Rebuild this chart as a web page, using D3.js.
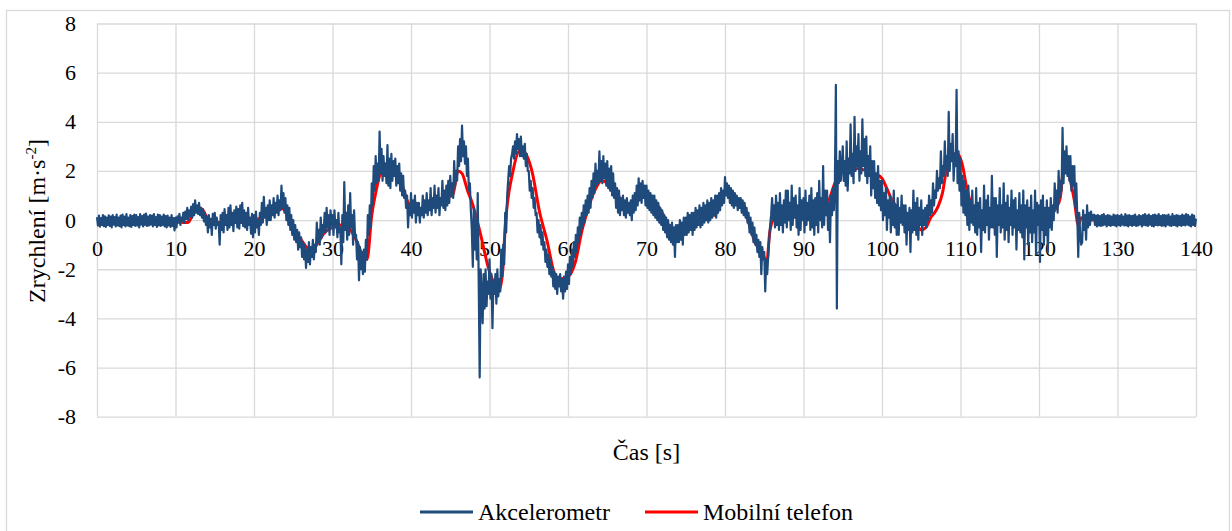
<!DOCTYPE html>
<html>
<head>
<meta charset="utf-8">
<style>
    body { margin: 0; background: #fff; }
    svg { display: block; }
    text { font-family: 'Liberation Serif', 'Times New Roman', serif; fill: #000; }
    .grid line { stroke: #d9d9d9; stroke-width: 1.3; }
    .grid path { display: none; }
    .lbl path, .lbl line { display: none; }
</style>
</head>
<body>
<svg width="1232" height="531"></svg>

<script src="https://d3js.org/d3.v7.min.js"></script>
<script>
    // x and y tick values
    let xTicks = d3.range(0, 141, 10);
    let yTicks = [-8, -6, -4, -2, 0, 2, 4, 6, 8];

    // Akcelerometr: one value every 0.125 s (one row = 1 s)
    let akcelStep = 0.125;
    let akcelValues = [
        0.12,-0.22,0.18,-0.27,0.08,-0.2,0.2,-0.25,
        0.15,-0.28,0.1,-0.2,0.19,-0.24,0.14,-0.3,
        0.2,-0.18,0.12,-0.26,0.22,-0.22,0.1,-0.25,
        0.18,-0.3,0.22,-0.2,0.14,-0.26,0.24,-0.22,
        0.1,-0.25,0.2,-0.28,0.16,-0.2,0.22,-0.24,
        0.2,-0.22,0.12,-0.3,0.24,-0.18,0.16,-0.26,
        0.22,-0.2,0.26,-0.24,0.14,-0.22,0.2,-0.18,
        0.18,-0.26,0.24,-0.2,0.12,-0.28,0.22,-0.22,
        0.2,-0.24,0.14,-0.2,0.22,-0.26,0.16,-0.3,
        0.18,-0.22,0.1,-0.28,0.2,-0.24,0.08,-0.42,
        // 10 s
        0.1,-0.3,0.15,-0.1,0.25,-0.2,0.1,-0.05,
        0.3,-0.1,0.35,0.05,0.5,0.0,0.4,0.15,
        0.55,0.1,0.65,0.2,0.8,0.3,0.6,0.25,
        0.7,0.2,0.5,0.1,0.45,-0.05,0.3,-0.2,
        0.15,-0.5,0.2,-0.3,0.05,-0.6,0.25,-0.2,
        0.3,-0.35,0.1,-0.2,-0.1,-1.0,0.2,-0.4,
        0.3,-0.5,0.45,-0.2,0.2,-0.4,0.5,-0.3,
        0.6,-0.2,0.3,-0.45,0.4,-0.1,0.55,-0.3,
        0.45,-0.35,0.6,-0.1,0.7,-0.25,0.4,-0.3,
        0.3,-0.4,0.5,-0.2,0.1,-0.55,0.25,-0.7,
        // 20 s
        0.2,-0.5,0.35,-0.3,0.0,-0.6,0.3,-0.2,
        0.7,-0.1,0.95,0.1,0.5,-0.2,0.6,0.0,
        0.8,0.0,0.6,0.2,0.9,0.1,0.7,0.3,
        1.0,0.2,0.8,0.4,1.4,0.5,1.1,0.3,
        0.9,0.0,0.6,-0.2,0.5,-0.4,0.2,-0.6,
        0.0,-0.8,-0.2,-0.9,-0.4,-1.2,-0.5,-1.1,
        -0.7,-1.5,-0.9,-1.6,-1.0,-1.95,-1.2,-1.7,
        -0.9,-1.8,-1.1,-1.5,-0.8,-1.6,-1.0,-1.3,
        -0.1,-0.9,-0.4,-1.0,0.1,-0.7,-0.2,-0.5,
        0.3,-0.5,0.5,-0.3,0.2,-0.6,0.4,-0.2,
        // 30 s
        0.2,-0.6,0.4,-0.3,0.0,-0.7,0.3,-0.5,
        -0.3,-1.8,0.2,-0.9,1.55,-0.4,0.3,-0.8,
        0.6,-0.6,1.1,-0.3,0.2,-1.0,0.4,-0.7,
        -0.6,-1.6,-0.9,-2.45,-1.1,-2.0,-1.3,-2.2,
        -1.2,-2.1,-0.8,-1.6,0.2,-0.6,0.6,-0.3,
        1.5,0.6,2.2,1.2,2.6,1.5,2.3,1.6,
        3.6,1.9,2.9,1.6,2.6,1.8,2.3,1.5,
        3.05,1.4,2.5,1.3,2.7,1.6,2.4,1.8,
        2.5,1.4,2.2,1.5,2.3,1.2,1.9,1.0,
        1.8,0.9,1.2,0.5,1.0,-0.3,0.6,0.2,
        // 40 s
        1.1,0.1,0.8,0.3,1.0,-0.1,0.7,0.2,
        0.7,-0.1,0.5,0.2,1.0,0.1,0.8,0.3,
        1.1,0.2,0.8,0.4,1.3,0.2,0.9,0.5,
        1.4,0.3,1.0,0.5,1.3,0.2,0.9,0.6,
        1.6,0.5,1.2,0.4,1.4,0.6,1.6,0.7,
        1.8,1.0,1.5,0.9,2.4,1.4,2.0,1.6,
        3.0,2.2,3.3,2.4,3.85,2.6,3.2,2.3,
        3.0,1.8,2.5,1.2,1.5,0.4,-0.4,-1.9,
        0.5,-1.2,0.0,-1.6,1.1,-2.5,-6.4,-2.0,
        -3.0,-4.2,-2.2,-3.6,-2.0,-3.5,-2.5,-3.0,
        // 50 s
        -1.6,-3.2,-2.2,-4.4,-2.5,-3.0,-2.2,-3.4,
        -2.0,-3.1,-2.4,-2.9,-1.2,-2.3,-1.0,-1.8,
        0.3,-0.5,1.0,1.6,2.2,1.8,2.5,2.7,
        3.0,2.5,3.2,2.7,3.5,2.9,3.3,2.6,
        3.4,2.6,3.0,2.5,3.1,2.2,2.7,2.0,
        2.0,1.2,1.6,0.9,1.3,0.5,0.9,0.2,
        0.3,-0.5,0.0,-0.7,-0.2,-1.0,-0.5,-1.2,
        -0.9,-1.7,-1.2,-1.9,-1.4,-2.2,-1.6,-2.3,
        -1.9,-2.7,-2.1,-2.8,-2.2,-3.0,-2.3,-2.7,
        -2.2,-2.9,-2.4,-3.2,-2.3,-2.9,-2.1,-2.8,
        // 60 s
        -1.8,-2.6,-1.5,-2.2,-1.2,-1.9,-0.9,-1.5,
        -0.6,-1.3,-0.3,-0.9,0.1,-0.6,0.3,-0.3,
        0.6,-0.1,0.8,0.2,1.0,0.3,1.3,0.5,
        1.6,0.9,1.9,1.1,2.3,1.4,2.0,1.5,
        2.8,1.6,2.4,1.5,2.6,1.7,2.3,1.4,
        2.4,1.3,2.1,1.2,2.2,1.0,1.9,0.9,
        1.5,0.5,1.3,0.3,1.2,0.2,0.9,0.4,
        1.0,0.2,0.8,0.1,0.9,0.3,0.7,0.2,
        0.8,0.0,1.0,0.3,1.1,0.4,1.4,0.6,
        1.7,0.8,1.5,0.7,1.6,0.9,1.4,0.6,
        // 70 s
        1.4,0.5,1.2,0.4,1.1,0.3,1.0,0.2,
        1.0,0.1,0.8,0.0,0.7,-0.1,0.5,-0.2,
        0.4,-0.4,0.2,-0.5,0.1,-0.7,0.0,-0.8,
        -0.2,-0.9,-0.1,-1.0,-0.3,-1.5,-0.2,-0.9,
        -0.2,-0.9,0.0,-0.8,-0.1,-1.0,0.1,-0.6,
        0.1,-0.6,0.3,-0.5,0.2,-0.4,0.3,-0.6,
        0.3,-0.4,0.5,-0.3,0.4,-0.2,0.6,-0.3,
        0.5,-0.2,0.7,-0.1,0.6,0.0,0.8,-0.1,
        0.7,0.0,0.9,0.1,0.8,0.2,1.0,0.1,
        1.0,0.3,1.1,0.4,1.3,0.6,1.2,0.7,
        // 80 s
        1.75,1.0,1.5,0.9,1.4,0.7,1.3,0.6,
        1.2,0.5,1.1,0.6,1.0,0.4,0.9,0.5,
        0.9,0.3,0.8,0.2,0.7,0.1,0.5,-0.1,
        0.3,-0.5,0.1,-0.6,-0.1,-0.9,-0.3,-1.0,
        -0.6,-1.3,-0.8,-1.5,-0.9,-2.2,-1.1,-1.6,
        -1.3,-2.9,-1.6,-2.2,-1.5,-0.8,-0.2,0.2,
        0.9,0.0,0.6,-0.3,1.0,-0.2,0.7,-0.4,
        1.1,-0.2,0.6,-0.5,0.8,-0.1,1.2,-0.3,
        1.2,0.0,0.7,-0.4,1.4,-0.2,0.9,0.1,
        1.0,-0.3,0.6,-0.6,1.3,-0.4,0.8,0.0,
        // 90 s
        0.9,-0.5,1.2,-0.2,0.7,0.0,1.0,-0.4,
        1.3,-0.3,0.8,-0.6,0.9,-0.2,1.1,-0.5,
        1.6,0.0,0.9,-0.3,2.2,-0.2,1.2,0.2,
        1.2,-0.4,0.7,-0.9,1.0,0.2,1.3,0.4,
        1.6,5.5,-3.6,2.4,1.5,2.8,1.6,2.2,
        3.0,1.6,2.4,1.4,3.2,1.2,2.5,1.9,
        3.9,1.8,2.7,1.5,4.2,2.0,3.0,2.2,
        3.5,1.6,2.8,1.9,4.1,2.2,3.3,1.8,
        3.4,1.5,2.6,1.8,3.0,1.0,2.4,1.3,
        2.4,0.9,1.9,0.7,2.2,0.6,1.6,0.4,
        // 100 s
        1.6,0.0,1.1,0.2,1.3,-0.4,0.8,0.1,
        1.0,-0.5,0.7,-0.2,1.2,-0.3,0.6,-0.6,
        0.9,-0.6,0.5,-0.1,1.0,-0.2,0.6,-0.5,
        0.6,-1.0,0.3,-0.4,0.5,-1.3,0.4,-0.5,
        1.2,-0.4,0.7,-0.6,0.9,-0.8,0.5,-0.2,
        0.8,-0.6,0.4,-0.2,0.5,-0.3,0.6,0.0,
        1.0,0.2,0.8,0.3,1.5,0.6,1.2,0.9,
        2.0,1.2,1.7,1.3,2.8,1.5,2.2,1.8,
        3.2,2.1,2.6,1.8,4.4,2.0,3.1,2.4,
        3.5,1.6,2.7,2.2,5.3,1.5,2.8,1.2,
        // 110 s
        2.5,0.6,1.8,0.3,1.6,0.2,1.2,-0.2,
        1.4,-0.4,0.8,-0.1,1.2,-0.2,0.6,-0.5,
        1.3,-0.6,0.7,-0.3,0.9,-1.3,0.4,-0.4,
        1.4,-0.5,0.8,-0.2,1.0,-0.8,0.5,-0.3,
        1.8,-0.3,0.9,-0.6,0.9,-1.5,0.6,-0.2,
        1.3,-0.5,0.6,-0.3,1.5,-0.8,0.7,-0.4,
        1.0,-0.9,0.5,-0.2,1.2,-0.6,0.8,-0.3,
        0.9,-1.2,0.4,-0.4,1.1,-0.5,0.6,-0.7,
        1.2,-1.6,0.6,-0.3,0.8,-1.0,0.5,-0.5,
        1.0,-0.9,0.4,-0.5,1.2,-1.4,0.7,-0.2,
        // 120 s
        0.6,-1.7,0.8,-0.4,1.0,-1.0,0.5,-0.6,
        0.8,-1.3,0.5,-0.3,0.9,-0.4,0.6,0.0,
        1.5,0.5,1.2,0.3,2.0,0.9,1.6,1.2,
        3.75,1.5,2.8,1.9,3.0,1.8,2.6,1.6,
        2.6,1.2,2.2,1.4,2.2,0.5,1.5,0.2,
        -1.5,0.3,-0.6,-1.0,-0.9,0.4,-0.4,0.2,
        -0.8,0.6,-0.3,0.3,-0.2,0.35,0.0,0.2,
        0.22,-0.2,0.18,-0.26,0.2,-0.22,0.16,-0.24,
        0.2,-0.22,0.24,-0.18,0.16,-0.26,0.2,-0.2,
        0.18,-0.24,0.14,-0.2,0.22,-0.22,0.18,-0.26,
        // 130 s
        0.2,-0.2,0.16,-0.24,0.22,-0.18,0.14,-0.22,
        0.24,-0.22,0.18,-0.26,0.2,-0.2,0.16,-0.24,
        0.18,-0.2,0.22,-0.24,0.14,-0.22,0.2,-0.18,
        0.16,-0.26,0.2,-0.2,0.24,-0.22,0.18,-0.24,
        0.22,-0.18,0.16,-0.24,0.2,-0.26,0.22,-0.2,
        0.18,-0.22,0.24,-0.2,0.16,-0.24,0.2,-0.22,
        0.2,-0.26,0.18,-0.18,0.22,-0.22,0.14,-0.24,
        0.24,-0.2,0.16,-0.22,0.2,-0.26,0.18,-0.2,
        0.16,-0.24,0.22,-0.2,0.18,-0.22,0.24,-0.18,
        0.2,-0.22,0.14,-0.26,0.22,-0.2,0.18,-0.24,
        0.05
    ];

    // Mobilní telefon: smoother signal, time [s] and value
    let telTime = [0, 5, 10, 11, 11.6, 12.3, 13, 13.5, 14, 15, 17, 19, 20, 21, 22, 23, 24, 24.6, 25.2, 26,
        26.7, 27.5, 28, 29, 30, 31, 32, 33, 33.8, 34.4, 35, 35.5, 36, 37, 38, 38.7, 39.5, 40, 41, 42,
        43, 44, 45.3, 46, 46.5, 47.2, 47.8, 48.8, 50, 51.3, 51.7, 52, 53, 53.9, 54.6, 55.4, 56.4, 57.3, 58.3, 58.8,
        60, 60.9, 61.8, 62.5, 63.4, 64.3, 65, 65.6, 66.3, 66.9, 67.6, 68.4, 69.2, 70, 71, 72, 73, 74, 75, 76,
        77, 78, 78.7, 79.7, 80.3, 80.9, 81.6, 82.3, 83.2, 83.8, 84.8, 85.3, 85.7, 86.1, 87, 90, 93, 94, 95, 97,
        98, 99, 100, 100.6, 101.3, 102, 103, 104, 105, 105.6, 106.2, 106.7, 107.2, 107.7, 108.4, 109, 109.6, 110.2, 110.8, 111.3,
        112, 115, 118, 120.4, 121.5, 122.2, 122.7, 123.1, 123.4, 124, 124.5, 125, 125.4, 126, 130, 140];
    let telValues = [0, 0, 0, -0.1, -0.1, 0.3, 0.5, 0.4, 0.1, -0.1, -0.1, -0.1, 0, 0.1, 0.3, 0.5, 0.4, 0, -0.5, -0.8,
        -1.1, -1.2, -1.0, -0.5, -0.3, -0.2, -0.3, -0.8, -1.4, -1.6, 0.2, 1.1, 1.8, 2.3, 2.1, 1.6, 0.8, 0.5, 0.3, 0.4,
        0.7, 0.9, 1.0, 2.0, 1.9, 1.2, 0.7, -0.5, -2.1, -2.8, -2.0, -0.3, 2.0, 2.85, 2.7, 2.0, 0.3, -0.8, -2.2, -2.4,
        -2.3, -1.75, -0.4, 0.4, 1.2, 1.6, 1.5, 1.2, 1.1, 0.6, 0.5, 0.6, 0.9, 1.1, 0.8, 0.3, -0.3, -0.6, -0.4, -0.1,
        0.1, 0.2, 0.2, 1.1, 1.2, 0.95, 0.85, 0.6, -0.3, -0.9, -1.35, -1.75, -0.5, 0.0, 0.3, 0.5, 0.7, 1.5, 2.0, 2.1,
        2.0, 1.9, 1.7, 1.3, 0.8, 0.5, 0.3, 0.1, -0.4, -0.3, 0.1, 0.3, 0.6, 1.1, 2.4, 2.7, 2.7, 2.3, 1.3, 0.7,
        0.4, 0.3, 0.2, -0.1, 0.2, 0.5, 0.9, 2.0, 2.1, 1.6, 0.8, -0.2, 0.1, 0, 0, 0];

    let seriesNames = ["Akcelerometr", "Mobilní telefon"];
    let seriesColors = ["#1f4a7c", "#ff0000"];
    let serif = "'Liberation Serif', 'Times New Roman', serif";

    let svg = d3.select("svg");

    // outer chart frame
    svg.append("rect")
        .attr("x", 6.5).attr("y", 10.5)
        .attr("width", 1223).attr("height", 540)
        .style("fill", "none")
        .style("stroke", "#d9d9d9")
        .style("stroke-width", 1.3);

    let plotLeft = 97, plotRight = 1196, plotTop = 23.5, plotBottom = 416.7;

    let x = d3.scaleLinear().domain([0, 140]).range([plotLeft, plotRight]);
    let y = d3.scaleLinear().domain([-8, 8]).range([plotBottom, plotTop]);

    // gridlines
    svg.append("g")
        .attr("class", "grid")
        .attr("transform", `translate(0,${plotBottom})`)
        .call(d3.axisBottom(x).tickValues(xTicks).tickSize(-(plotBottom - plotTop)).tickFormat(""));

    svg.append("g")
        .attr("class", "grid")
        .attr("transform", `translate(${plotLeft},0)`)
        .call(d3.axisLeft(y).tickValues(yTicks).tickSize(-(plotRight - plotLeft)).tickFormat(""));

    // tick labels (plain hyphen for negatives, as in the original)
    let yLabels = svg.append("g")
        .attr("class", "lbl")
        .attr("transform", `translate(${plotLeft},0)`)
        .call(d3.axisLeft(y).tickValues(yTicks).tickSize(0).tickPadding(21).tickFormat(d => String(d)));

    let xLabels = svg.append("g")
        .attr("class", "lbl")
        .attr("transform", `translate(0,${y(0)})`)
        .call(d3.axisBottom(x).tickValues(xTicks).tickSize(0).tickPadding(20).tickFormat(d => String(d)));

    [yLabels, xLabels].forEach(g => {
        g.attr("font-family", serif).attr("font-size", 22);
        g.selectAll("text").style("font-family", serif).style("font-size", "22px").attr("fill", "#000");
    });

    // series
    let telLine = d3.line()
        .x((d, i) => x(telTime[i]))
        .y(d => y(d))
        .curve(d3.curveMonotoneX);

    svg.append("path")
        .attr("d", telLine(telValues))
        .style("fill", "none")
        .style("stroke", seriesColors[1])
        .style("stroke-width", 3)
        .style("stroke-linejoin", "round");

    let akcelLine = d3.line()
        .x((d, i) => x(i * akcelStep))
        .y(d => y(d));

    svg.append("path")
        .attr("d", akcelLine(akcelValues))
        .style("fill", "none")
        .style("stroke", seriesColors[0])
        .style("stroke-width", 2.2)
        .style("stroke-linejoin", "round");

    // axis titles
    svg.append("text")
        .attr("x", (plotLeft + plotRight) / 2).attr("y", 460)
        .attr("text-anchor", "middle")
        .style("font-family", serif)
        .style("font-size", "24px")
        .text("Čas [s]");

    let yTitle = svg.append("text")
        .attr("transform", "translate(45,221) rotate(-90)")
        .attr("text-anchor", "middle")
        .style("font-family", serif)
        .style("font-size", "24px");
    yTitle.append("tspan").text("Zrychlení [m·s");
    yTitle.append("tspan").attr("dy", -9).style("font-size", "15px").text("-2");
    yTitle.append("tspan").attr("dy", 9).text("]");

    // legend
    let legendX = [420, 645];
    seriesNames.forEach((name, i) => {
        svg.append("line")
            .attr("x1", legendX[i]).attr("x2", legendX[i] + 53)
            .attr("y1", 512).attr("y2", 512)
            .style("stroke", seriesColors[i])
            .style("stroke-width", 3);
        svg.append("text")
            .attr("x", legendX[i] + 58).attr("y", 520)
            .style("font-family", serif)
            .style("font-size", "24px")
            .text(name);
    });
</script>
</body>
</html>
